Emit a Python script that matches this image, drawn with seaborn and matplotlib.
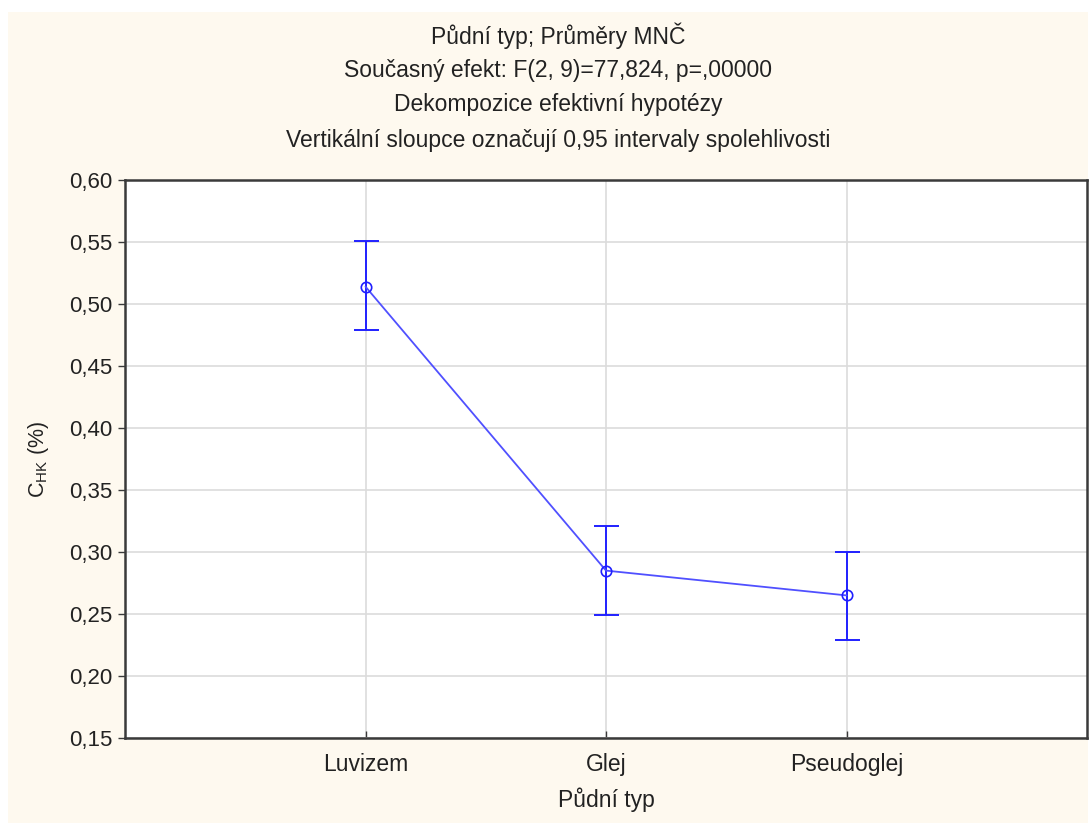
import matplotlib
matplotlib.use("Agg")
import matplotlib.pyplot as plt
import matplotlib.ticker as mticker
from matplotlib.patches import Rectangle
import seaborn as sns
import numpy as np
import pandas as pd

categories = ["Luvizem", "Glej", "Pseudoglej"]
means = [0.514, 0.285, 0.265]
ci_low = [0.479, 0.249, 0.229]
ci_high = [0.551, 0.321, 0.300]
yticks = [0.15, 0.20, 0.25, 0.30, 0.35, 0.40, 0.45, 0.50, 0.55, 0.60]

title_lines = [
    "Půdní typ; Průměry MNČ",
    "Současný efekt: F(2, 9)=77,824, p=,00000",
    "Dekompozice efektivní hypotézy",
    "Vertikální sloupce označují 0,95 intervaly spolehlivosti",
]

sns.set_theme(style="white")
plt.rcParams["font.family"] = ["Liberation Sans", "DejaVu Sans"]
plt.rcParams["mathtext.fontset"] = "custom"
plt.rcParams["mathtext.rm"] = "Liberation Sans"
plt.rcParams["mathtext.it"] = "Liberation Sans"

W, H = 1091, 823
fig = plt.figure(figsize=(W / 100, H / 100), dpi=100, facecolor="white")
fig.patches.append(Rectangle((8 / W, 0), (1088 - 8) / W, (H - 12) / H,
                             transform=fig.transFigure, facecolor="#FEF9EF",
                             edgecolor="none", zorder=-10))

ax = fig.add_axes([125 / W, (H - 738) / H, (1087 - 125) / W, (738 - 180) / H])
ax.set_facecolor("white")

df = pd.DataFrame({"typ": categories, "val": means})
line_col = "#5050FF"
err_col = "#2020FF"

sns.pointplot(data=df, x="typ", y="val", order=categories, errorbar=None,
              color=line_col, markers="o", linewidth=1.3, markersize=7.5,
              markerfacecolor="none", markeredgecolor=err_col, markeredgewidth=1.2,
              ax=ax, zorder=4)

xpos = np.arange(len(categories))
m = np.array(means)
ax.errorbar(xpos, m, yerr=[m - np.array(ci_low), np.array(ci_high) - m],
            fmt="none", ecolor=err_col, elinewidth=1.4, capsize=9,
            capthick=1.4, zorder=3)

ax.set_xlim(-1, 3)
ax.set_ylim(0.15, 0.60)
ax.set_yticks(yticks)
ax.yaxis.set_major_formatter(mticker.FuncFormatter(lambda v, p: f"{v:.2f}".replace(".", ",")))
ax.set_xticks(xpos)
ax.set_xticklabels(categories)

ax.grid(True, color="#DCDCDC", linewidth=1.2)
ax.set_axisbelow(True)
for s in ax.spines.values():
    s.set_visible(True)
    s.set_color("#3A3A3A")
    s.set_linewidth(1.8)

ax.tick_params(axis="y", direction="out", length=5, width=1, color="#3A3A3A",
               labelsize=16, labelcolor="#222222", pad=4, left=True)
ax.tick_params(axis="x", direction="in", length=5, width=1, color="#3A3A3A",
               labelsize=16.5, labelcolor="#222222", pad=11, bottom=True)

ax.set_xlabel("Půdní typ", fontsize=16.5, color="#222222", labelpad=8)
ax.set_ylabel(r"C$_{\mathrm{HK}}$ (%)", fontsize=15.5, color="#222222", labelpad=13)

ys = [36, 71, 105, 140]
for t, y in zip(title_lines, ys):
    fig.text(558 / W, 1 - y / H, t, ha="center", va="center", fontsize=16.5,
             color="#222222")

fig.savefig("out.png", dpi=100, facecolor="white")
